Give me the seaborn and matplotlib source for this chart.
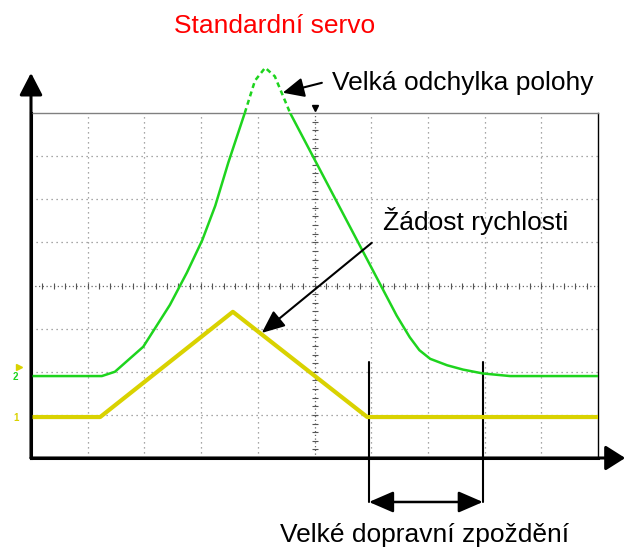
import numpy as np
import pandas as pd
import matplotlib.pyplot as plt
import seaborn as sns

# Oscilloskop: 10 x 8 dílků, hodnoty odečtené v dílcích
green_t = [0.0, 1.25, 1.48, 1.98, 2.45, 2.75, 3.02, 3.25, 3.48, 3.77, 3.95,
           4.13, 4.30, 4.57, 4.97, 5.37, 5.77, 6.17, 6.45, 6.68, 6.85, 7.04,
           7.34, 7.62, 7.97, 8.45, 10.0]
green_u = [1.90, 1.90, 2.00, 2.58, 3.55, 4.30, 5.05, 5.85, 6.85, 8.00, 8.75,
           9.05, 8.85, 8.00, 7.00, 6.00, 5.00, 4.00, 3.30, 2.80, 2.50, 2.30,
           2.15, 2.05, 1.96, 1.90, 1.90]

yellow_t = [0.0, 1.22, 3.56, 5.93, 10.0]
yellow_u = [0.95, 0.95, 3.39, 0.95, 0.95]

GREEN = "#1ed41e"
YELLOW = "#d9d200"

sns.set_style("white")
plt.rcParams['font.family'] = ['Liberation Sans', 'DejaVu Sans']

fig = plt.figure(figsize=(6.25, 5.5), dpi=100)
ax = fig.add_axes([31 / 625, 92 / 550, 567 / 625, 345 / 550])
ax.set_xlim(0, 10)
ax.set_ylim(0, 8)

# mřížka
for v in range(1, 10):
    if v != 5:
        ax.axvline(v, color="#8a8a8a", lw=0.9, ls=(0, (1, 3)), zorder=1)
for h in range(1, 8):
    if h != 4:
        ax.axhline(h, color="#8a8a8a", lw=0.9, ls=(0, (1, 3)), zorder=1)

# středové osy s jemným dělením
ax.axvline(5, color="#666666", lw=0.9, ls=(0, (1, 2)), zorder=1)
ax.axhline(4, color="#666666", lw=0.9, ls=(0, (1, 2)), zorder=1)
minor_y = np.arange(0.2, 8.0, 0.2)
minor_x = np.arange(0.2, 10.0, 0.2)
ax.plot(np.full(len(minor_y), 5.0), minor_y, ls="none", marker="_", ms=4,
        mew=0.8, color="#555555", zorder=1)
ax.plot(minor_x, np.full(len(minor_x), 4.0), ls="none", marker="|", ms=4,
        mew=0.8, color="#555555", zorder=1)

# průběhy
df_green = pd.DataFrame({"t": green_t, "u": green_u})
df_yellow = pd.DataFrame({"t": yellow_t, "u": yellow_u})
sns.lineplot(data=df_green, x="t", y="u", color=GREEN, lw=1.8, ax=ax,
             estimator=None, zorder=3)
sns.lineplot(data=df_yellow, x="t", y="u", color=YELLOW, lw=3, ax=ax,
             estimator=None, zorder=3)

# část nad rámečkem je čárkovaná
g_t = np.array(green_t)
g_u = np.array(green_u)
over = g_u >= 8.0
ax.plot(g_t[over], g_u[over], color=GREEN, lw=1.8, ls=(0, (2, 1.5)),
        clip_on=False, zorder=3)

ax.set_xlabel("")
ax.set_ylabel("")
ax.set_xticks([])
ax.set_yticks([])

ax.spines["top"].set_color("#808080")
ax.spines["top"].set_linewidth(1)
ax.spines["right"].set_color("black")
ax.spines["right"].set_linewidth(1)
for side in ["left", "bottom"]:
    ax.spines[side].set_color("black")
    ax.spines[side].set_linewidth(2.2)


def arrow(tail, tip, lw, hl, hw, style="-|>"):
    ax.annotate("", xy=tip, xytext=tail, xycoords="data",
                arrowprops=dict(arrowstyle=f"{style},head_length={hl},head_width={hw}",
                                lw=lw, color="black", shrinkA=0, shrinkB=0,
                                mutation_scale=1),
                annotation_clip=False)


# osy se šipkami
arrow((0, 0), (0, 8.93), 2.2, 13.5, 7.0)
arrow((0, 0), (10.48, 0), 2.2, 12.0, 7.6)

# značky kanálů vlevo
ax.text(-0.27, 1.88, "2", color=GREEN, fontsize=7, ha="center", va="center",
        fontweight="bold", clip_on=False)
ax.text(-0.27, 0.93, "1", color=YELLOW, fontsize=7, ha="center", va="center",
        fontweight="bold", clip_on=False)
ax.plot([-0.22], [2.12], marker=">", ms=5, color=YELLOW, clip_on=False)
ax.plot([5.0], [8.12], marker="v", ms=4, color="black", clip_on=False)

# popisky
ax.text(4.30, 9.86, "Standardní servo", color="red", fontsize=19,
        ha="center", va="baseline")
ax.text(5.31, 8.54, "Velká odchylka polohy", color="black", fontsize=19,
        ha="left", va="baseline")
ax.text(6.21, 5.29, "Žádost rychlosti", color="black", fontsize=19,
        ha="left", va="baseline")
ax.text(4.39, -1.95, "Velké dopravní zpoždění", color="black", fontsize=19,
        ha="left", va="baseline")

arrow((5.13, 8.70), (4.44, 8.47), 1.5, 13.0, 6.0)
arrow((6.01, 4.99), (4.07, 2.90), 1.5, 14.0, 6.0)

# zpoždění
for xv in [5.96, 7.97]:
    ax.plot([xv, xv], [2.23, -1.02], color="black", lw=1.5, clip_on=False)
arrow((5.96, -1.02), (7.97, -1.02), 1.8, 15.0, 6.5, style="<|-|>")

fig.savefig("out.png", dpi=100)
